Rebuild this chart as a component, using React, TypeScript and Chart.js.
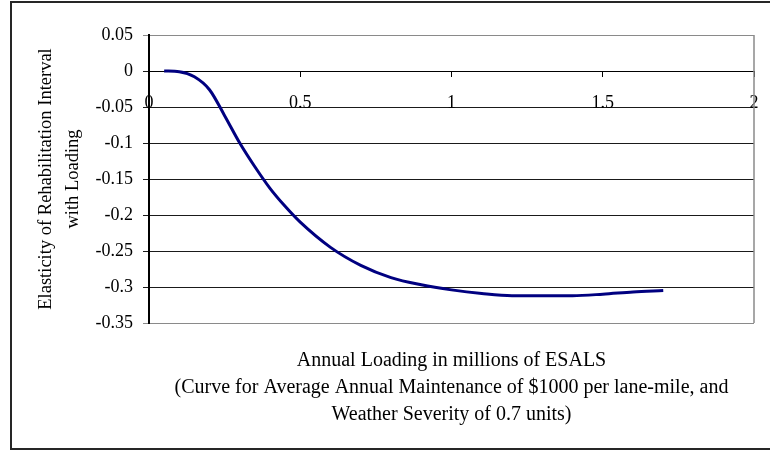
import React, { useEffect, useRef } from "react";
import { Chart, registerables } from "chart.js";

Chart.register(...registerables);

// Annual loading (millions of ESALs)
const loading = [0.05, 0.1, 0.15, 0.2, 0.25, 0.3, 0.35, 0.4, 0.45, 0.5, 0.6, 0.7, 0.8, 0.9, 1.0, 1.1, 1.2, 1.3, 1.4, 1.5, 1.6, 1.7];
// Elasticity of rehabilitation interval with loading
const elasticity = [0, -0.001, -0.008, -0.026, -0.062, -0.1, -0.133, -0.163, -0.188, -0.21, -0.245, -0.27, -0.287, -0.297, -0.304, -0.309, -0.312, -0.312, -0.312, -0.31, -0.307, -0.305];

const xTitle = [
  "Annual Loading in millions of ESALS",
  "(Curve for Average Annual Maintenance of $1000 per lane-mile, and",
  "Weather Severity of 0.7 units)",
];
const yTitle = ["Elasticity of Rehabilitation Interval", "with Loading"];

const FONT = "'Liberation Serif', 'Times New Roman', serif";

const plotBorder = {
  id: "plotBorder",
  beforeDatasetsDraw(chart: any) {
    const { ctx, chartArea } = chart;
    ctx.save();
    ctx.strokeStyle = "#8a8a8a";
    ctx.lineWidth = 1.5;
    ctx.beginPath();
    ctx.moveTo(chartArea.right, chartArea.top);
    ctx.lineTo(chartArea.right, chartArea.bottom);
    ctx.stroke();
    ctx.restore();
  },
};

const fmt = (v: number) => String(Math.round(v * 100) / 100);

export default function App() {
  const ref = useRef<HTMLCanvasElement | null>(null);
  useEffect(() => {
    if (!ref.current) return;
    const chart = new Chart(ref.current, {
      type: "line",
      data: {
        datasets: [
          {
            data: loading.map((x, i) => ({ x, y: elasticity[i] })),
            borderColor: "#000080",
            borderWidth: 3,
            pointRadius: 0,
            fill: false,
            cubicInterpolationMode: "monotone",
          },
        ],
      },
      options: {
        responsive: false,
        animation: false,
        devicePixelRatio: 1,
        layout: { padding: { left: 0, right: 16, top: 35, bottom: 22 } },
        plugins: {
          legend: { display: false },
          tooltip: { enabled: false },
          title: {
            display: true,
            position: "bottom",
            fullSize: false,
            text: xTitle,
            color: "#000",
            font: { family: FONT, size: 20, weight: "normal", lineHeight: 27 / 20 },
            padding: { top: 24, bottom: 0 },
          },
        },
        scales: {
          x: {
            type: "linear",
            position: { y: 0 },
            min: 0,
            max: 2,
            ticks: {
              stepSize: 0.5,
              color: "#000",
              padding: 16,
              maxRotation: 0,
              font: { family: FONT, size: 18 },
              callback: (v: any) => fmt(Number(v)),
            },
            grid: { drawOnChartArea: false, drawTicks: true, tickLength: 5, color: "#000" },
            border: { display: true, color: "#000", width: 1 },
            afterFit: (s: any) => {
              s.paddingLeft = 0;
              s.paddingRight = 0;
            },
          },
          y: {
            type: "linear",
            position: "left",
            min: -0.35,
            max: 0.05,
            ticks: {
              stepSize: 0.05,
              color: "#000",
              padding: 10,
              font: { family: FONT, size: 18 },
              callback: (v: any) => fmt(Number(v)),
            },
            grid: {
              color: (c: any) => (c.index === 0 || c.index === 8 ? "#8a8a8a" : "#1a1a1a"),
              lineWidth: 1,
              tickLength: 6,
              drawTicks: true,
            },
            border: { display: true, color: "#000", width: 2 },
            title: {
              display: true,
              text: yTitle,
              color: "#000",
              font: { family: FONT, size: 18.5, weight: "normal", lineHeight: 27 / 18.5 },
              padding: { top: 33, bottom: 0 },
            },
            afterFit: (s: any) => {
              s.width = 149;
            },
          },
        },
      },
      plugins: [plotBorder],
    } as any);
    return () => chart.destroy();
  }, []);

  return (
    <div style={{ position: "absolute", left: 0, top: 0, width: 770, height: 450, overflow: "hidden", background: "#fff" }}>
      <canvas ref={ref} width={770} height={450} style={{ position: "absolute", left: 0, top: 0 }} />
      <div
        style={{
          position: "absolute",
          left: 10,
          top: 1,
          width: 780,
          height: 449,
          border: "2px solid #262626",
          boxSizing: "border-box",
          pointerEvents: "none",
        }}
      />
    </div>
  );
}
